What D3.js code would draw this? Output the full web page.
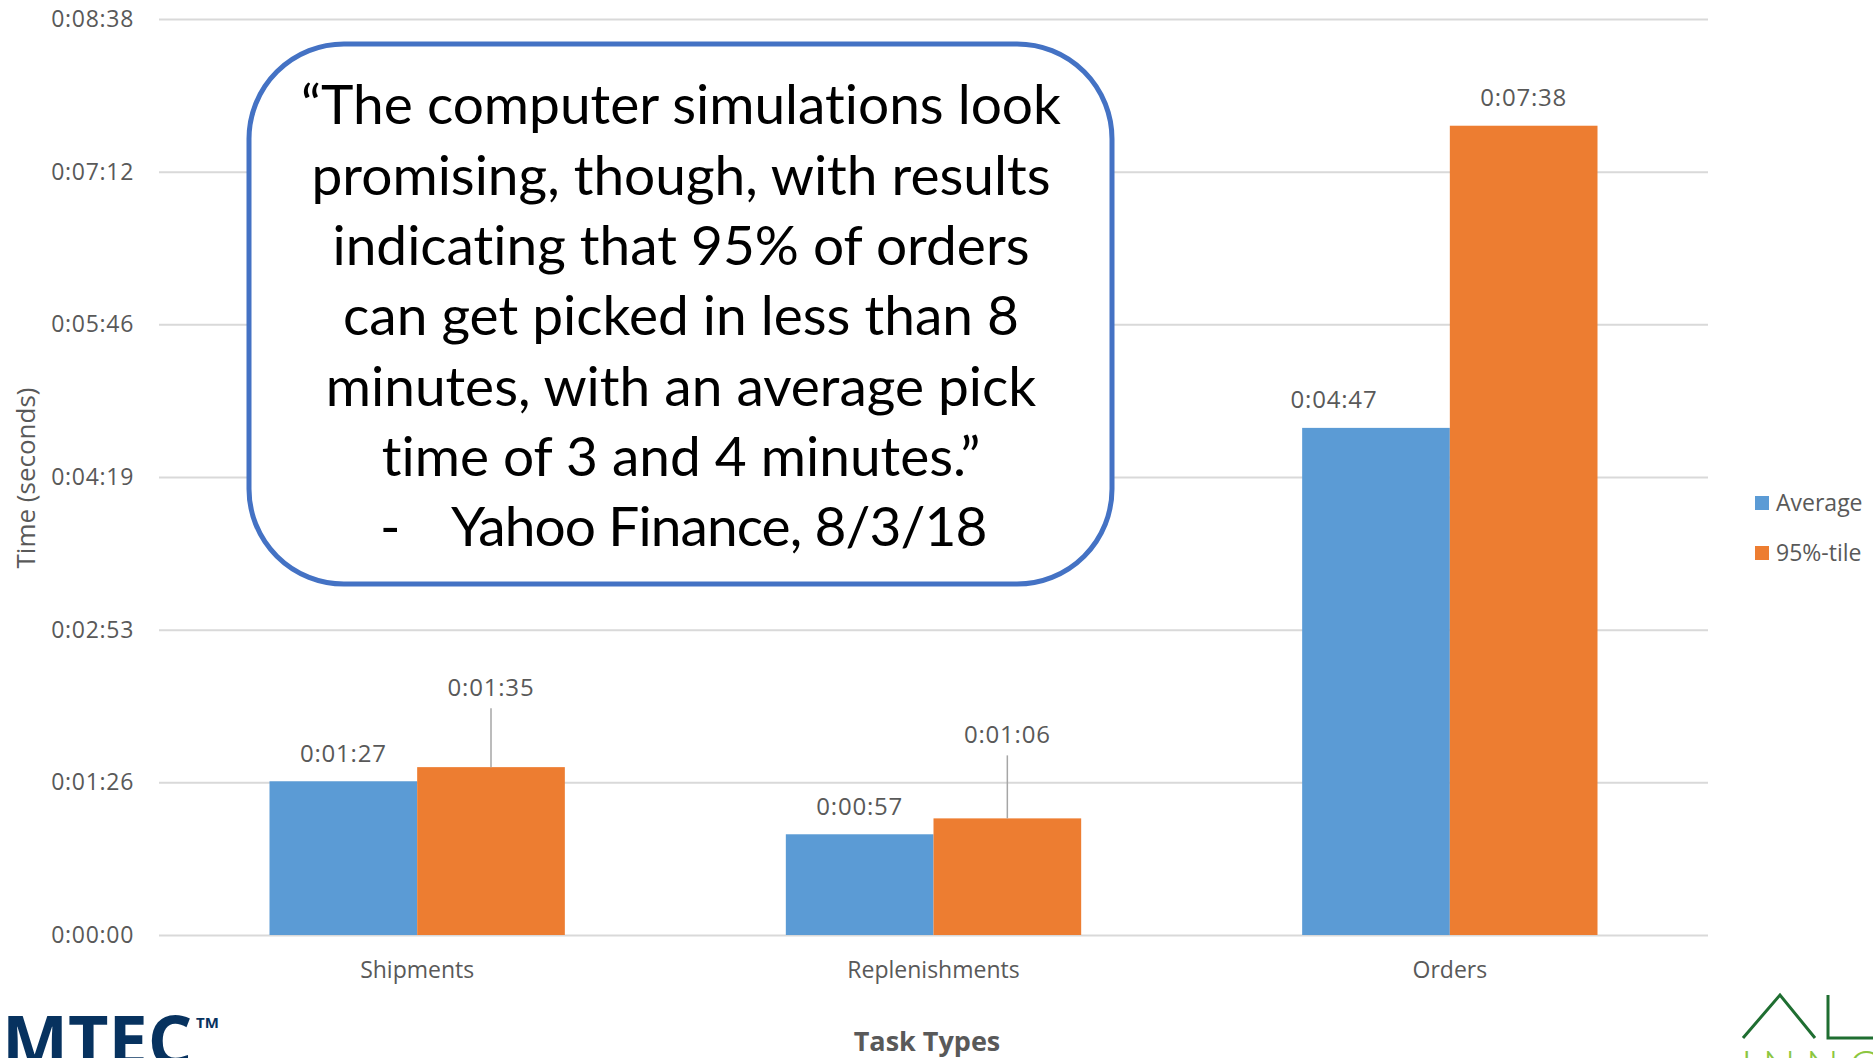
<!DOCTYPE html>
<html><head><meta charset="utf-8">
<script src="https://cdn.jsdelivr.net/npm/d3@7"></script>
<style>html,body{margin:0;padding:0;background:#fff;overflow:hidden}</style>
</head><body>
<svg id="chart" width="1873" height="1058"></svg>
<script>
// ---- data ----
const categories = ["Shipments", "Replenishments", "Orders"];
const seriesNames = ["Average", "95%-tile"];
const averageSecs = [87, 57, 287];
const pct95Secs = [95, 66, 458];
const tickSecs = [0, 86.4, 172.8, 259.2, 345.6, 432, 518.4];
const quoteLines = [
  "\u201CThe computer simulations look",
  "promising, though, with results",
  "indicating that 95% of orders",
  "can get picked in less than 8",
  "minutes, with an average pick",
  "time of 3 and 4 minutes.\u201D"
];
const quoteSource = "Yahoo Finance, 8/3/18";

// ---- styling ----
const colors = ["#5B9BD5", "#ED7D31"];
const labelLift = [[0, 0, 0], [52, 56, 0]];   // extra label lift per series/category (callout labels)
const labelShift = [[0, 0, -42], [0, 0, 0]];  // horizontal label nudge per series/category
const fontUI = "'Open Sans', 'Noto Sans', sans-serif";
const textGray = "#595959";

const svg = d3.select("#chart");
const plot = {left: 159, right: 1708, top: 19, bottom: 935};

const x0 = d3.scaleBand().domain(categories).range([plot.left, plot.right])
  .paddingInner(0.428).paddingOuter(0.214);
const x1 = d3.scaleBand().domain(seriesNames).range([0, x0.bandwidth()]).padding(0);
const y = d3.scaleLinear().domain([0, 518.4]).range([plot.bottom, plot.top]);

function fmt(s) {
  const t = Math.round(s);
  const h = Math.floor(t / 3600), m = Math.floor((t % 3600) / 60), sec = t % 60;
  return h + ":" + String(m).padStart(2, "0") + ":" + String(sec).padStart(2, "0");
}

// gridlines + y axis labels
const yAxis = d3.axisLeft(y).tickValues(tickSecs).tickFormat(fmt)
  .tickSize(-(plot.right - plot.left)).tickPadding(25);
const gy = svg.append("g").attr("transform", `translate(${plot.left},0)`).call(yAxis);
gy.select(".domain").remove();
gy.selectAll(".tick line").attr("stroke", "#d9d9d9").attr("stroke-width", 2);
gy.selectAll(".tick text").attr("fill", textGray).style("font-family", fontUI)
  .style("font-size", "23px").style("letter-spacing", "0.7px");

// x axis labels
const xAxis = d3.axisBottom(x0).tickSize(0).tickPadding(27);
const gx = svg.append("g").attr("transform", `translate(0,${plot.bottom})`).call(xAxis);
gx.select(".domain").remove();
gx.selectAll(".tick text").attr("fill", textGray).style("font-family", fontUI).style("font-size", "23px");

// bars
const seriesData = [averageSecs, pct95Secs];
const rows = [];
categories.forEach((c, ci) => seriesNames.forEach((s, si) => rows.push({c, ci, s, si, v: seriesData[si][ci]})));

svg.append("g").selectAll("rect").data(rows).join("rect")
  .attr("x", d => x0(d.c) + x1(d.s))
  .attr("y", d => y(d.v))
  .attr("width", x1.bandwidth())
  .attr("height", d => y(0) - y(d.v))
  .attr("fill", d => colors[d.si]);

// leader lines for lifted labels
svg.append("g").selectAll("line").data(rows.filter(d => labelLift[d.si][d.ci] > 0)).join("line")
  .attr("x1", d => x0(d.c) + x1(d.s) + x1.bandwidth() / 2)
  .attr("x2", d => x0(d.c) + x1(d.s) + x1.bandwidth() / 2)
  .attr("y1", d => y(d.v))
  .attr("y2", d => y(d.v) - labelLift[d.si][d.ci] - 7)
  .attr("stroke", "#a6a6a6").attr("stroke-width", 1.5);

// value labels
svg.append("g").selectAll("text").data(rows).join("text")
  .attr("x", d => x0(d.c) + x1(d.s) + x1.bandwidth() / 2 + labelShift[d.si][d.ci])
  .attr("y", d => y(d.v) - 28 - labelLift[d.si][d.ci])
  .attr("dy", "0.35em")
  .attr("text-anchor", "middle")
  .attr("fill", textGray)
  .style("font-family", fontUI).style("font-size", "24px").style("letter-spacing", "0.8px")
  .text(d => fmt(d.v));

// axis titles
svg.append("text")
  .attr("transform", "translate(26,478) rotate(-90)")
  .attr("text-anchor", "middle").attr("dy", "0.35em")
  .attr("fill", textGray).style("font-family", fontUI).style("font-size", "26px")
  .text("Time (seconds)");
svg.append("text")
  .attr("x", 927).attr("y", 1042).attr("dy", "0.35em")
  .attr("text-anchor", "middle")
  .attr("fill", textGray).style("font-family", fontUI).style("font-size", "27px").style("font-weight", "700")
  .text("Task Types");

// legend
const lg = svg.append("g").selectAll("g").data(seriesNames).join("g")
  .attr("transform", (d, i) => `translate(1755,${503 + i * 50})`);
lg.append("rect").attr("x", 0).attr("y", -7).attr("width", 14).attr("height", 14).attr("fill", (d, i) => colors[i]);
lg.append("text").attr("x", 21).attr("dy", "0.35em").attr("fill", textGray)
  .style("font-family", fontUI).style("font-size", "23px").text(d => d);

// quote callout
svg.append("rect")
  .attr("x", 249).attr("y", 44).attr("width", 863).attr("height", 540)
  .attr("rx", 95).attr("ry", 95)
  .attr("fill", "#fff").attr("stroke", "#4472C4").attr("stroke-width", 5);
const qg = svg.append("g").style("font-family", "Lato, 'Noto Sans', sans-serif").style("font-size", "55px")
  .style("font-variant-ligatures", "none").attr("fill", "#000");
qg.selectAll("text").data(quoteLines).join("text")
  .attr("x", 681).attr("y", (d, i) => 105 + i * 70.4).attr("dy", "0.35em")
  .attr("text-anchor", "middle").text(d => d);
const src = qg.append("text").attr("y", 527).attr("dy", "0.35em");
src.append("tspan").attr("x", 380).text("-");
src.append("tspan").attr("x", 451).style("letter-spacing", "-0.9px").text(quoteSource);

// MTEC logo
svg.append("text").attr("x", 2).attr("y", 1066)
  .attr("fill", "#07325f").style("font-family", "'Open Sans', sans-serif").style("font-weight", "700")
  .style("font-size", "70px").text("MTEC");
svg.append("text").attr("x", 196).attr("y", 1028)
  .attr("fill", "#07325f").style("font-family", "'Open Sans', sans-serif").style("font-weight", "700")
  .style("font-size", "15px").text("TM");

// green logo (bottom right)
svg.append("path").attr("d", "M1743,1038 L1780,995 L1815,1038 M1828,995 L1828,1038 L1873,1038")
  .attr("fill", "none").attr("stroke", "#1f6e31").attr("stroke-width", 3);
svg.append("text").attr("x", 1741).attr("y", 1082)
  .attr("fill", "#8cc63f").style("font-family", "Lato, sans-serif").style("font-weight", "300")
  .style("font-size", "44px").style("letter-spacing", "10px").text("INNO");
</script>
</body></html>
